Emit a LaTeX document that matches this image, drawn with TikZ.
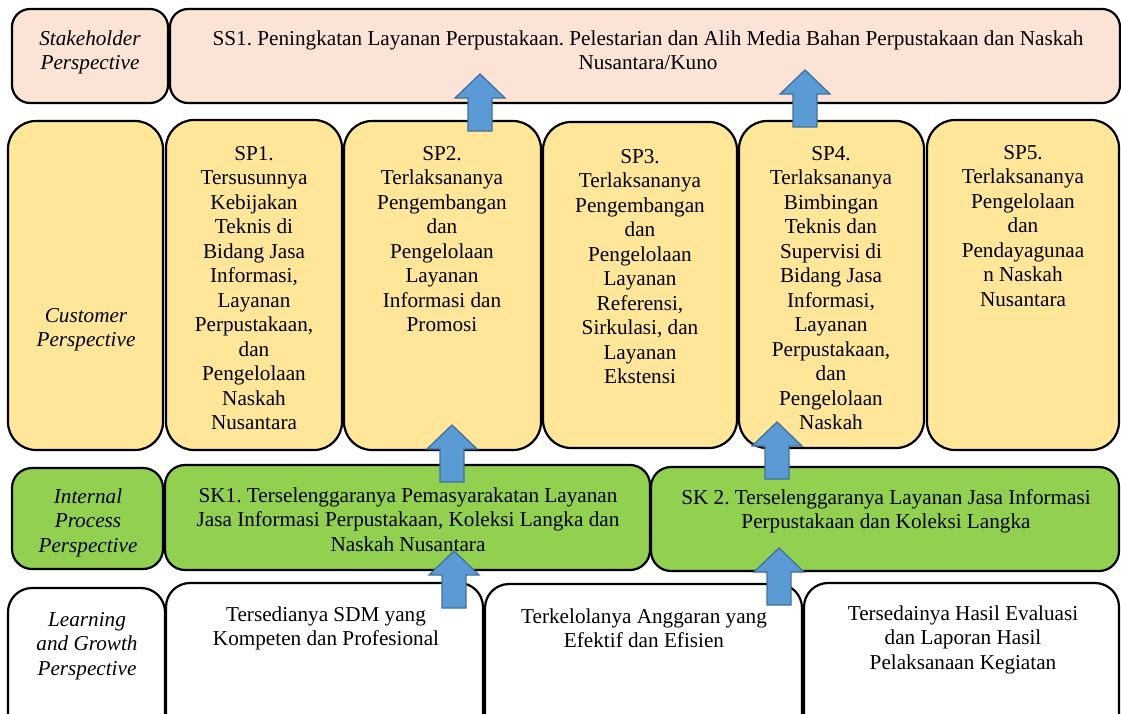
\documentclass[tikz,border=0pt]{standalone}
\usepackage{fontspec}
\setmainfont{Liberation Serif}
\frenchspacing
\definecolor{stkfill}{HTML}{FBE4D5}
\definecolor{cusfill}{HTML}{FFE699}
\definecolor{intfill}{HTML}{92D050}
\definecolor{arrfill}{HTML}{5B9BD5}
\definecolor{arredge}{HTML}{41719C}
\newcommand\blkarrow[1]{\draw[arrowsty] (#1) ++(-12,0) -- ++(0,-33) -- ++(-13,0) -- ++(25,-24) -- ++(25,24) -- ++(-13,0) -- ++(0,33) -- cycle;}
\begin{document}
\begin{tikzpicture}[x=1pt,y=-1pt,
  box/.style={draw=black, line width=2.2pt, inner sep=0pt},
  stkbox/.style={box, fill=stkfill, rounded corners=18pt},
  cusbox/.style={box, fill=cusfill, rounded corners=28pt},
  intbox/.style={box, fill=intfill, rounded corners=20pt},
  lrnbox/.style={box, fill=white, rounded corners=24pt},
  txt/.style={anchor=north, inner sep=0pt, align=center, font=\fontsize{21.2}{24.5}\selectfont},
  lbl/.style={txt, font=\fontsize{21.2}{24.5}\selectfont\itshape},
  arrowsty/.style={fill=arrfill, draw=arredge, line width=1.3pt, line join=miter}]
\useasboundingbox (0,0) rectangle (1121,713);
\clip (0,0) rectangle (1121,713);
% row 1
\node[stkbox, minimum width=156pt, minimum height=94pt] (stL) at (90,56) {};
\node[stkbox, minimum width=950pt, minimum height=94pt] (ss1) at (645,56) {};
% row 2
\node[cusbox, minimum width=155pt, minimum height=329pt] (cuL) at (85.5,285.5) {};
\node[cusbox, minimum width=176pt, minimum height=330pt] (sp1) at (254,285) {};
\node[cusbox, minimum width=197pt, minimum height=329pt] (sp2) at (442.5,285.5) {};
\node[cusbox, minimum width=194pt, minimum height=326pt] (sp3) at (640,285) {};
\node[cusbox, minimum width=185pt, minimum height=327pt] (sp4) at (831.5,284.5) {};
\node[cusbox, minimum width=192pt, minimum height=330pt] (sp5) at (1023,285) {};
% row 3
\node[intbox, minimum width=151pt, minimum height=101pt] (ipL) at (87.5,518.5) {};
\node[intbox, minimum width=485pt, minimum height=105pt] (sk1) at (407.5,517.5) {};
\node[intbox, minimum width=468pt, minimum height=104pt] (sk2) at (885,519) {};
% row 4
\node[lrnbox, minimum width=157pt, minimum height=152pt] (lgL) at (86.5,664) {};
\node[lrnbox, minimum width=317pt, minimum height=157pt] (lg1) at (324.5,661.5) {};
\node[lrnbox, minimum width=317pt, minimum height=156pt] (lg2) at (643.5,662) {};
\node[lrnbox, minimum width=315pt, minimum height=157pt] (lg3) at (961.5,661.5) {};
% texts
\node[lbl] (t-stL) at (90,28) {\strut Stakeholder\\Perspective};
\node[txt] (t-ss1) at (648,28) {\strut SS1. Peningkatan Layanan Perpustakaan. Pelestarian dan Alih Media Bahan Perpustakaan dan Naskah\\Nusantara/Kuno};
\node[lbl] (t-cuL) at (86,305) {\strut Customer\\Perspective};
\node[txt] (t-sp1) at (254,143) {\strut SP1.\\Tersusunnya\\Kebijakan\\Teknis di\\Bidang Jasa\\Informasi,\\Layanan\\Perpustakaan,\\dan\\Pengelolaan\\Naskah\\Nusantara};
\node[txt] (t-sp2) at (442,143) {\strut SP2.\\Terlaksananya\\Pengembangan\\dan\\Pengelolaan\\Layanan\\Informasi dan\\Promosi};
\node[txt] (t-sp3) at (640,146) {\strut SP3.\\Terlaksananya\\Pengembangan\\dan\\Pengelolaan\\Layanan\\Referensi,\\Sirkulasi, dan\\Layanan\\Ekstensi};
\node[txt] (t-sp4) at (831,143) {\strut SP4.\\Terlaksananya\\Bimbingan\\Teknis dan\\Supervisi di\\Bidang Jasa\\Informasi,\\Layanan\\Perpustakaan,\\dan\\Pengelolaan\\Naskah};
\node[txt] (t-sp5) at (1023,142) {\strut SP5.\\Terlaksananya\\Pengelolaan\\dan\\Pendayagunaa\\n Naskah\\Nusantara};
\node[lbl] (t-ipL) at (88,486) {\strut Internal\\Process\\Perspective};
\node[txt] (t-sk1) at (408,485) {\strut SK1. Terselenggaranya Pemasyarakatan Layanan\\Jasa Informasi Perpustakaan, Koleksi Langka dan\\Naskah Nusantara};
\node[txt] (t-sk2) at (886,487) {\strut SK 2. Terselenggaranya Layanan Jasa Informasi\\Perpustakaan dan Koleksi Langka};
\node[lbl] (t-lgL) at (87,609) {\strut Learning\\and Growth\\Perspective};
\node[txt] (t-lg1) at (326,604) {\strut Tersedianya SDM yang\\Kompeten dan Profesional};
\node[txt] (t-lg2) at (644,606) {\strut Terkelolanya Anggaran yang\\Efektif dan Efisien};
\node[txt] (t-lg3) at (963,603) {\strut Tersedainya Hasil Evaluasi\\dan Laporan Hasil\\Pelaksanaan Kegiatan};
% arrows
\coordinate (a1) at (480,131);
\coordinate (a2) at (805,127);
\coordinate (a3) at (452,482);
\coordinate (a4) at (454,608);
\coordinate (a5) at (777,479);
\coordinate (a6) at (779,605);
\blkarrow{a1}
\blkarrow{a2}
\blkarrow{a3}
\blkarrow{a4}
\blkarrow{a5}
\blkarrow{a6}
\end{tikzpicture}
\end{document}
